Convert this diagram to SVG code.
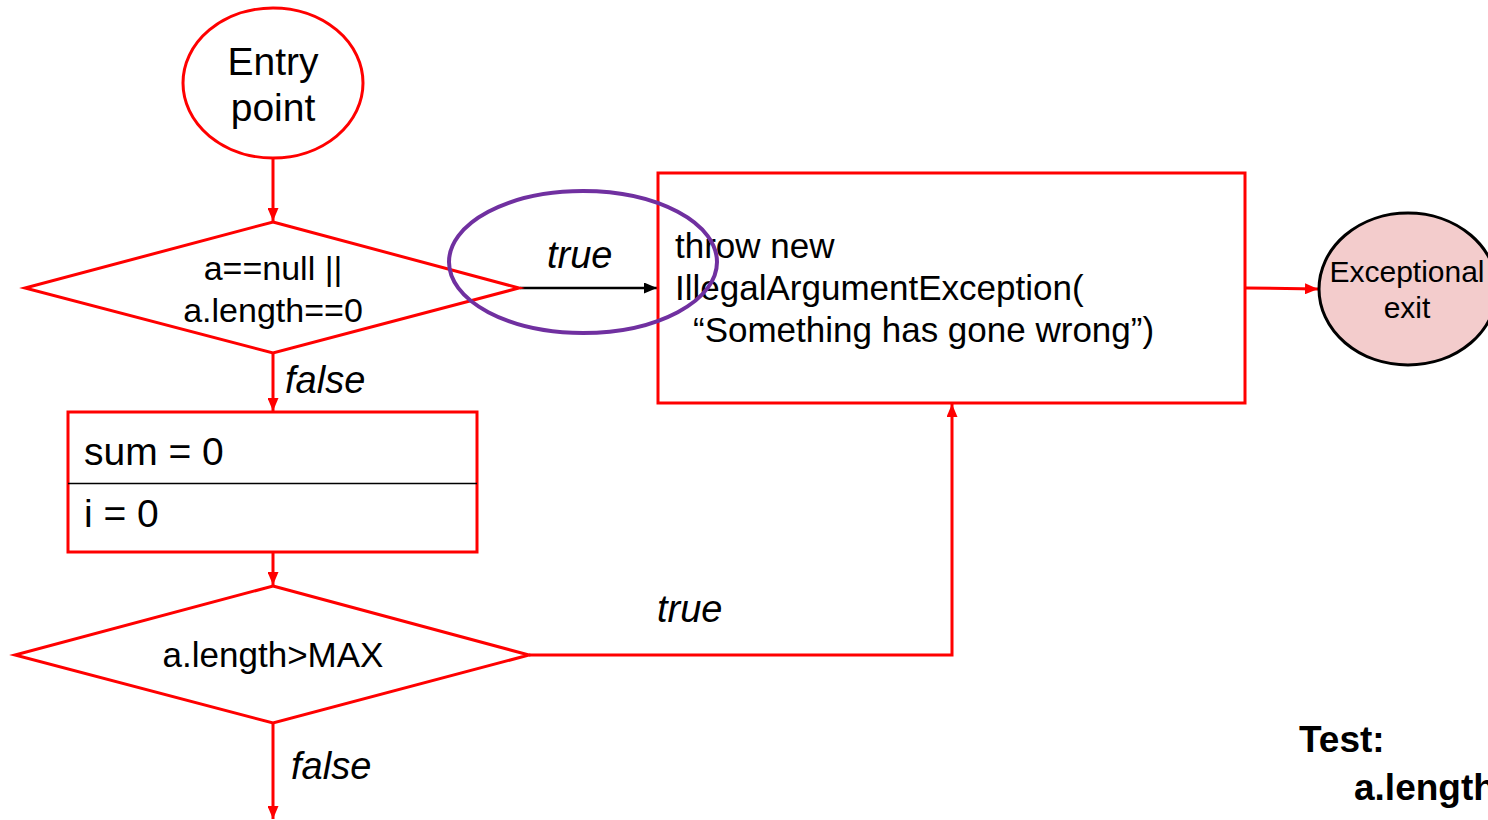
<svg xmlns="http://www.w3.org/2000/svg" width="1488" height="820" viewBox="0 0 1488 820">
  <style>
    .shape { fill: #ffffff; stroke: #ff0000; stroke-width: 3; }
    .flow { fill: none; stroke: #ff0000; stroke-width: 3; }
    .txt { font-family: "Liberation Sans", Arial, sans-serif; fill: #000000; }
    .lbl { font-family: "Liberation Sans", Arial, sans-serif; font-style: italic; font-size: 38px; fill: #000000; }
  </style>
  <defs>
    <marker id="arrRed" viewBox="0 0 13 11" refX="13" refY="5.5" markerWidth="13" markerHeight="11" markerUnits="userSpaceOnUse" orient="auto">
      <path d="M0,0 L13,5.5 L0,11 Z" fill="#ff0000"/>
    </marker>
    <marker id="arrBlack" viewBox="0 0 13 11" refX="13" refY="5.5" markerWidth="13" markerHeight="11" markerUnits="userSpaceOnUse" orient="auto">
      <path d="M0,0 L13,5.5 L0,11 Z" fill="#000000"/>
    </marker>
  </defs>
  <rect width="1488" height="820" fill="#ffffff"/>

  <g id="connectors">
    <line class="flow" x1="273" y1="159" x2="273" y2="221" marker-end="url(#arrRed)"/>
    <line class="flow" x1="273" y1="354" x2="273" y2="411" marker-end="url(#arrRed)"/>
    <line class="flow" x1="273" y1="553" x2="273" y2="585" marker-end="url(#arrRed)"/>
    <line class="flow" x1="273" y1="724" x2="273" y2="819" marker-end="url(#arrRed)"/>
    <polyline class="flow" points="529,655 952,655 952,404" marker-end="url(#arrRed)"/>
    <line class="flow" x1="1246" y1="288" x2="1318" y2="289" marker-end="url(#arrRed)"/>
    <line x1="520" y1="288" x2="657" y2="288" stroke="#000000" stroke-width="2.5" marker-end="url(#arrBlack)"/>
    <text class="lbl" x="285" y="393">false</text>
    <text class="lbl" x="547" y="268">true</text>
    <text class="lbl" x="657" y="622">true</text>
    <text class="lbl" x="291" y="779">false</text>
  </g>

  <g id="entry">
    <ellipse class="shape" cx="273" cy="83" rx="90" ry="75"/>
    <text class="txt" font-size="39" x="273" y="75" text-anchor="middle">Entry</text>
    <text class="txt" font-size="39" x="273" y="121" text-anchor="middle">point</text>
  </g>

  <g id="check-null">
    <polygon class="shape" points="273,222 519,288 273,353 25,288"/>
    <text class="txt" font-size="34" x="273" y="280" text-anchor="middle">a==null ||</text>
    <text class="txt" font-size="34" x="273" y="322" text-anchor="middle">a.length==0</text>
  </g>

  <g id="init">
    <rect class="shape" x="68" y="412" width="409" height="140"/>
    <line x1="68" y1="483.5" x2="477" y2="483.5" stroke="#000000" stroke-width="1.5"/>
    <text class="txt" font-size="39" x="84" y="465">sum = 0</text>
    <text class="txt" font-size="39" x="84" y="527">i = 0</text>
  </g>

  <g id="check-max">
    <polygon class="shape" points="273,586 529,655 273,723 15,655"/>
    <text class="txt" font-size="35" x="273" y="667" text-anchor="middle">a.length&gt;MAX</text>
  </g>

  <g id="throw">
    <rect class="shape" x="658" y="173" width="587" height="230"/>
    <text class="txt" font-size="35" x="675" y="258">throw new</text>
    <text class="txt" font-size="35" x="675" y="300">IllegalArgumentException(</text>
    <text class="txt" font-size="35" x="693" y="342">“Something has gone wrong”)</text>
  </g>

  <g id="exceptional-exit">
    <ellipse cx="1408" cy="289" rx="89" ry="76" fill="#f3cccc" stroke="#000000" stroke-width="3"/>
    <text class="txt" font-size="30" x="1407" y="282" text-anchor="middle">Exceptional</text>
    <text class="txt" font-size="30" x="1407" y="318" text-anchor="middle">exit</text>
  </g>

  <g id="highlight">
    <ellipse cx="583" cy="262" rx="134" ry="71" fill="none" stroke="#7030a0" stroke-width="4"/>
  </g>

  <g id="test-note">
    <text class="txt" font-size="37" font-weight="bold" x="1299" y="752">Test:</text>
    <text class="txt" font-size="37" font-weight="bold" x="1354" y="800">a.length</text>
  </g>
</svg>
